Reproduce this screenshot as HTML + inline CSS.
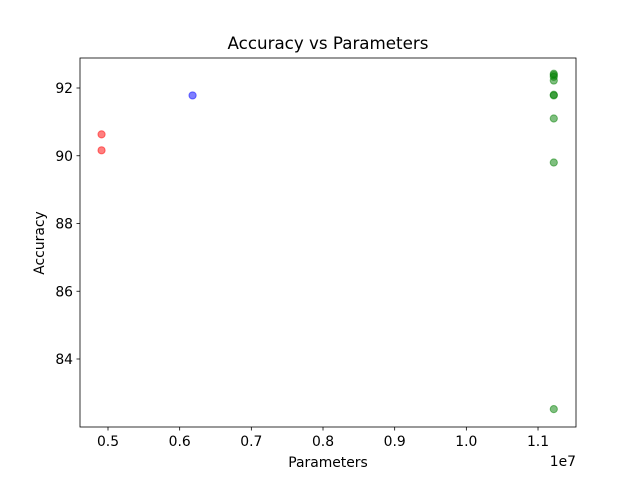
<!DOCTYPE html>
<html><head><meta charset="utf-8"><style>
body{margin:0;background:#fff;font-family:"Liberation Sans","DejaVu Sans",sans-serif}
svg text{font-family:"DejaVu Sans","Liberation Sans",sans-serif;fill:#000}
</style></head><body>
<svg id="c" width="640" height="480"></svg>
<script>
const redX=[4.91e6,4.91e6];
const redY=[90.63,90.16];
const blueX=[6.18e6];
const blueY=[91.78];
const greenX=[11.22e6,11.22e6,11.22e6,11.22e6,11.22e6,11.22e6,11.22e6,11.22e6,11.22e6];
const greenY=[92.42,92.38,92.33,92.22,91.80,91.78,91.10,89.80,82.52];
const xTicks=[0.5,0.6,0.7,0.8,0.9,1.0,1.1];
const yTicks=[84,86,88,90,92];
const L=80,R=576,T=58,B=427;
function sx(v){return 108+(v/1e7-0.5)*716.7;}
function sy(v){return 88+(92-v)*33.875;}
const s=document.getElementById('c');const NS='http://www.w3.org/2000/svg';
function el(t,a,p){const e=document.createElementNS(NS,t);for(const k in a)e.setAttribute(k,a[k]);(p||s).appendChild(e);return e;}
const frame=el('rect',{x:L,y:T,width:R-L,height:B-T,fill:'none',stroke:'#000','stroke-width':0.8});


xTicks.forEach(v=>{const x=sx(v*1e7);
const l=el('line',{x1:x,x2:x,y1:B,y2:B+3.5,stroke:'#000','stroke-width':0.8});


const t=el('text',{x:x,y:B+19,'font-size':13.9,'text-anchor':'middle'});t.textContent=v.toFixed(1);

});
yTicks.forEach(v=>{const y=sy(v);
const l=el('line',{x1:L,x2:L-3.5,y1:y,y2:y,stroke:'#000','stroke-width':0.8});


const t=el('text',{x:L-7,y:y+5,'font-size':13.9,'text-anchor':'end'});t.textContent=v;

});
function pts(xs,ys,col,name){xs.forEach((x,i)=>{const c=el('circle',{cx:sx(x),cy:sy(ys[i]),r:3.6,fill:col,'fill-opacity':0.5,stroke:col,'stroke-opacity':0.5});

});}
pts(redX,redY,'#ff0000','point-red');pts(blueX,blueY,'#0000ff','point-blue');pts(greenX,greenY,'#008000','point-green');
function txt(str,a,name){const t=el('text',a);t.textContent=str;

}
txt('Accuracy vs Parameters',{x:328,y:49,'font-size':16.7,'text-anchor':'middle'},'chart-title');
txt('Parameters',{x:328,y:467,'font-size':13.9,'text-anchor':'middle'},'x-axis-title');
txt('Accuracy',{x:44,y:243,'font-size':13.9,'text-anchor':'middle',transform:'rotate(-90 44 243)'},'y-axis-title');
txt('1e7',{x:576,y:466,'font-size':13.9,'text-anchor':'end'},'x-offset-label');
</script></body></html>
